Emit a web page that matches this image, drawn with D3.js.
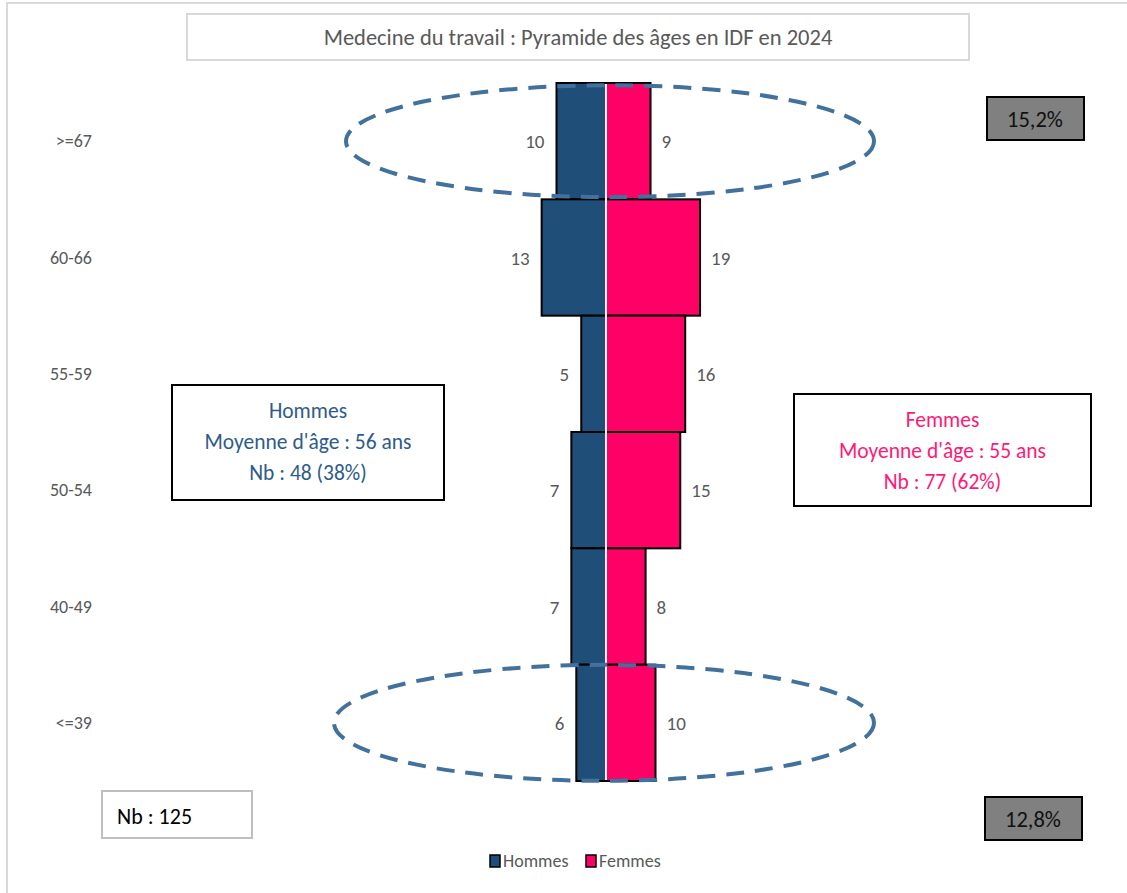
<!DOCTYPE html>
<html>
<head>
<meta charset="utf-8">
<script src="https://cdn.jsdelivr.net/npm/d3@7"></script>
<style>
  body { margin: 0; background: #fff; }
  svg text { font-family: Carlito, "Liberation Sans Narrow", Lato, sans-serif; }
</style>
</head>
<body>
<div id="chart"></div>
<script>
// data
var ages = [">=67", "60-66", "55-59", "50-54", "40-49", "<=39"]
var hommes = [10, 13, 5, 7, 7, 6]
var femmes = [9, 19, 16, 15, 8, 10]

var width = 1127, height = 893
var cx = 606

var svg = d3.select("#chart").append("svg")
    .attr("width", width)
    .attr("height", height)

// outer chart frame
svg.append("rect")
    .attr("x", 7).attr("y", 3)
    .attr("width", 1200).attr("height", 1000)
    .attr("fill", "#fff")
    .attr("stroke", "#d9d9d9").attr("stroke-width", 2)

// title box
svg.append("rect")
    .attr("x", 187).attr("y", 14).attr("width", 782).attr("height", 46)
    .attr("fill", "#fff").attr("stroke", "#d9d9d9").attr("stroke-width", 2)
svg.append("text")
    .attr("x", 578).attr("y", 45)
    .attr("text-anchor", "middle")
    .style("font-size", "22.5px").style("fill", "#595959")
    .text("Medecine du travail : Pyramide des âges en IDF en 2024")

var x = d3.scaleLinear().domain([-20, 20]).range([cx - 99, cx + 99])
var y = d3.scaleBand().domain(ages).range([83, 781]).padding(0)

var menColor = "#1f4e79", womenColor = "#ff0066"

// y labels
svg.selectAll("text.age")
  .data(ages)
  .join("text")
    .attr("class", "age")
    .attr("x", 92)
    .attr("y", function(d){ return y(d) + y.bandwidth() / 2 + 6 })
    .attr("text-anchor", "end")
    .style("font-size", "18px").style("fill", "#595959")
    .text(function(d){ return d })

// bars
svg.selectAll("rect.h")
  .data(hommes)
  .join("rect")
    .attr("class", "h")
    .attr("x", function(d){ return x(-d) })
    .attr("y", function(d, i){ return y(ages[i]) })
    .attr("width", function(d){ return x(0) - x(-d) })
    .attr("height", y.bandwidth())
    .attr("fill", menColor)
    .attr("stroke", "#000").attr("stroke-width", 2)

svg.selectAll("rect.f")
  .data(femmes)
  .join("rect")
    .attr("class", "f")
    .attr("x", x(0))
    .attr("y", function(d, i){ return y(ages[i]) })
    .attr("width", function(d){ return x(d) - x(0) })
    .attr("height", y.bandwidth())
    .attr("fill", womenColor)
    .attr("stroke", "#000").attr("stroke-width", 2)

// white separator
svg.append("line")
    .attr("x1", x(0)).attr("x2", x(0))
    .attr("y1", y(ages[0]) + 1).attr("y2", y(ages[ages.length - 1]) + y.bandwidth() - 1)
    .attr("stroke", "#f2f2f2").attr("stroke-width", 2)

// value labels
svg.selectAll("text.hv")
  .data(hommes)
  .join("text")
    .attr("class", "hv")
    .attr("x", function(d){ return x(-d) - 12 })
    .attr("y", function(d, i){ return y(ages[i]) + y.bandwidth() / 2 + 7 })
    .attr("text-anchor", "end")
    .style("font-size", "19px").style("fill", "#595959")
    .text(function(d){ return d })

svg.selectAll("text.fv")
  .data(femmes)
  .join("text")
    .attr("class", "fv")
    .attr("x", function(d){ return x(d) + 11 })
    .attr("y", function(d, i){ return y(ages[i]) + y.bandwidth() / 2 + 7 })
    .attr("text-anchor", "start")
    .style("font-size", "19px").style("fill", "#595959")
    .text(function(d){ return d })

// dashed ellipses round the first and last age groups
svg.append("ellipse")
    .attr("cx", 610).attr("cy", y(ages[0]) + y.bandwidth() / 2)
    .attr("rx", 264).attr("ry", 56)
    .attr("fill", "none").attr("stroke", "#41719c").attr("stroke-width", 4)
    .attr("stroke-dasharray", "18,11")
svg.append("ellipse")
    .attr("cx", 604).attr("cy", y(ages[5]) + y.bandwidth() / 2)
    .attr("rx", 270).attr("ry", 58)
    .attr("fill", "none").attr("stroke", "#41719c").attr("stroke-width", 4)
    .attr("stroke-dasharray", "18,11")

// info boxes
function infoBox(bx, by, bw, bh, lines, color) {
  svg.append("rect")
      .attr("x", bx).attr("y", by).attr("width", bw).attr("height", bh)
      .attr("fill", "#fff").attr("stroke", "#000").attr("stroke-width", 2)
  svg.selectAll(null)
    .data(lines)
    .join("text")
      .attr("x", bx + bw / 2)
      .attr("y", function(d, i){ return by + 33 + i * 31 })
      .attr("text-anchor", "middle")
      .style("font-size", "21.5px").style("fill", color)
      .text(function(d){ return d })
}
infoBox(172, 385, 272, 115, ["Hommes", "Moyenne d'âge : 56 ans", "Nb : 48 (38%)"], "#2e5c8a")
infoBox(794, 394, 297, 112, ["Femmes", "Moyenne d'âge : 55 ans", "Nb : 77 (62%)"], "#ff1a75")

// percentage boxes
function pctBox(bx, by, txt) {
  svg.append("rect")
      .attr("x", bx).attr("y", by).attr("width", 97).attr("height", 43)
      .attr("fill", "#808080").attr("stroke", "#000").attr("stroke-width", 2)
  svg.append("text")
      .attr("x", bx + 48).attr("y", by + 30)
      .attr("text-anchor", "middle")
      .style("font-size", "22.5px").style("fill", "#111")
      .text(txt)
}
pctBox(987, 97, "15,2%")
pctBox(985, 797, "12,8%")

// total box
svg.append("rect")
    .attr("x", 102).attr("y", 791).attr("width", 150).attr("height", 47)
    .attr("fill", "#fff").attr("stroke", "#bfbfbf").attr("stroke-width", 2)
svg.append("text")
    .attr("x", 117).attr("y", 824)
    .style("font-size", "22px").style("fill", "#000")
    .text("Nb : 125")

// legend
var legend = [["Hommes", menColor, 490], ["Femmes", womenColor, 586]]
var lg = svg.selectAll("g.lg")
  .data(legend)
  .join("g")
    .attr("class", "lg")
    .attr("transform", function(d){ return "translate(" + d[2] + ",855)" })
lg.append("rect")
    .attr("width", 10).attr("height", 12)
    .attr("fill", function(d){ return d[1] })
    .attr("stroke", "#000").attr("stroke-width", 1.5)
lg.append("text")
    .attr("x", 13).attr("y", 12)
    .style("font-size", "18px").style("fill", "#595959")
    .text(function(d){ return d[0] })
</script>
</body>
</html>
